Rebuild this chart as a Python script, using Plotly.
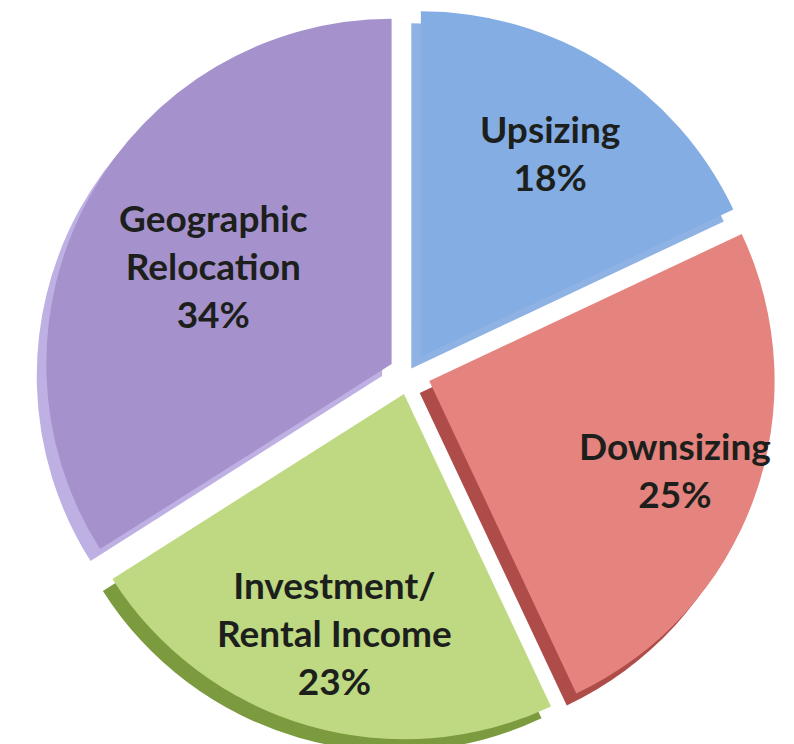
import math
import plotly.graph_objects as go

categories = ["Upsizing", "Downsizing", "Investment/<br>Rental Income", "Geographic<br>Relocation"]
values = [18, 25, 23, 34]
colors = ["#84ade3", "#e5837e", "#bfd983", "#a592cc"]
edge_colors = ["#8fb2e4", "#ad4c48", "#7c9a3e", "#bfb0e4"]

# layout / style constants
W, H = 794, 744
PULL = 0.06
label_radius = [0.70, 0.755, 0.72, 0.59]   # fraction of radius for each label
main_dom = dict(x=[0.012, 1.0], y=[0.016, 1.0])
edge_dom = dict(x=[0.0, 0.988], y=[0.0, 0.984])

fig = go.Figure()
fig.add_trace(go.Pie(
    labels=categories, values=values, sort=False, direction="clockwise",
    marker=dict(colors=edge_colors, line=dict(width=0)),
    pull=[PULL] * len(values), textinfo="none", hoverinfo="skip",
    domain=edge_dom, showlegend=False,
))
fig.add_trace(go.Pie(
    labels=categories, values=values, sort=False, direction="clockwise",
    marker=dict(colors=colors, line=dict(width=0)),
    pull=[PULL] * len(values), textinfo="none",
    domain=main_dom, showlegend=False,
))

# label placement derived from the data (slice mid-angles)
cx = W * (main_dom["x"][0] + main_dom["x"][1]) / 2
cy = H * (1 - (main_dom["y"][0] + main_dom["y"][1]) / 2)
r = min(W * (main_dom["x"][1] - main_dom["x"][0]), H * (main_dom["y"][1] - main_dom["y"][0])) / 2 / (1 + PULL)
total = sum(values)
cum = 0
for cat, v, f in zip(categories, values, label_radius):
    mid = (cum + v / 2) / total * 2 * math.pi
    cum += v
    px = cx + (f + PULL) * r * math.sin(mid)
    py = cy - (f + PULL) * r * math.cos(mid)
    fig.add_annotation(
        x=px / W, y=1 - py / H, xref="paper", yref="paper",
        text=f"{cat}<br>{v}%", showarrow=False,
        font=dict(family="Lato", size=37, color="#1c1f1c", weight="bold"),
        align="center", xanchor="center", yanchor="middle",
    )

fig.update_layout(
    width=W, height=H,
    margin=dict(l=0, r=0, t=0, b=0),
    paper_bgcolor="white", plot_bgcolor="white",
)
fig.write_html("out.html")
